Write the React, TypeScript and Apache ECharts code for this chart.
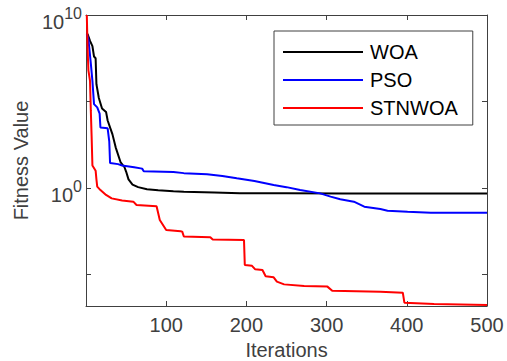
import React, { useEffect, useRef } from "react";
import * as echarts from "echarts";

// Iteration numbers and log10 of the fitness value for each algorithm
const woaIterations = [1, 2, 5, 8, 10, 12, 13, 16, 20, 25, 27, 33, 37, 43, 48, 50, 53, 58, 65, 76, 90, 109, 122, 160, 192, 250, 320, 500];
const woaLogFitness = [8.9, 8.9, 8.5, 8.2, 7.6, 7.5, 6.0, 5.2, 4.6, 4.4, 3.9, 3.1, 2.35, 1.5, 1.2, 0.95, 0.5, 0.2, 0.05, -0.07, -0.13, -0.19, -0.22, -0.26, -0.3, -0.31, -0.32, -0.32];

const psoIterations = [1, 3, 6, 8, 10, 14, 17, 18, 27, 29, 30, 40, 45, 60, 70, 72, 109, 122, 151, 170, 188, 210, 234, 250, 267, 292, 305, 317, 334, 347, 367, 376, 401, 430, 500];
const psoLogFitness = [8.9, 8.6, 7.2, 6.2, 4.85, 4.66, 4.3, 3.5, 3.45, 2.7, 1.45, 1.38, 1.3, 1.2, 1.12, 0.97, 0.93, 0.86, 0.8, 0.7, 0.56, 0.4, 0.17, 0.05, -0.12, -0.31, -0.5, -0.65, -0.79, -1.08, -1.21, -1.31, -1.37, -1.43, -1.43];

const stnwoaIterations = [1, 2, 3, 5, 6, 7, 8, 12, 13, 14, 18, 25, 32, 45, 59, 63, 88, 92, 100, 118, 120, 122, 155, 158, 197, 198, 207, 211, 220, 224, 234, 238, 247, 272, 301, 307, 367, 395, 397, 434, 500];
const stnwoaLogFitness = [10, 8, 6.8, 6.2, 4.5, 3.0, 1.3, 1.0, 0.5, 0.08, -0.12, -0.4, -0.6, -0.72, -0.79, -0.98, -1.05, -1.85, -2.43, -2.5, -2.52, -2.8, -2.85, -2.98, -3.0, -4.45, -4.5, -4.7, -4.74, -5.1, -5.16, -5.41, -5.57, -5.66, -5.7, -5.94, -5.99, -6.05, -6.63, -6.7, -6.76];

const seriesNames = ["WOA", "PSO", "STNWOA"];
const seriesColors = ["#000000", "#0000ff", "#ff0000"];
const xTickValues = [0, 100, 200, 300, 400, 500];
const yTickExponents = [-5, 0, 5, 10];
const yLabelExponents = [0, 10];

const FONT = "'Liberation Sans', Arial, Helvetica, sans-serif";
const AXIS_COLOR = "#404040";

export default function App() {
  const ref = useRef<HTMLDivElement>(null);
  useEffect(() => {
    if (!ref.current) return;
    const chart = echarts.init(ref.current, undefined, { renderer: "svg" });
    const pairs = (xs: number[], ys: number[]) => xs.map((x, i) => [x, ys[i]]);
    const data = [
      pairs(woaIterations, woaLogFitness),
      pairs(psoIterations, psoLogFitness),
      pairs(stnwoaIterations, stnwoaLogFitness),
    ];
    const axisLine = { show: true, onZero: false, lineStyle: { color: AXIS_COLOR, width: 1 } };
    const tick = { show: true, inside: true, length: 5, lineStyle: { color: AXIS_COLOR, width: 1 } };
    chart.setOption({
      animation: false,
      backgroundColor: "#ffffff",
      textStyle: { fontFamily: FONT },
      grid: { left: 86, right: 20, top: 15, bottom: 55, containLabel: false, outerBoundsMode: "none" },
      legend: {
        orient: "vertical",
        left: 274,
        top: 31,
        padding: [11, 15, 7, 8],
        itemWidth: 80,
        itemHeight: 20,
        itemGap: 8,
        borderColor: AXIS_COLOR,
        borderWidth: 1,
        backgroundColor: "#ffffff",
        itemStyle: { opacity: 0 },
        textStyle: { fontSize: 20, color: "#000000", fontFamily: FONT, padding: [0, 0, 0, 2] },
        data: seriesNames,
      },
      xAxis: [
        {
          type: "value",
          position: "bottom",
          min: 0,
          max: 500,
          interval: 100,
          axisLine,
          axisTick: { ...tick, customValues: xTickValues },
          splitLine: { show: false },
          axisLabel: {
            fontSize: 20,
            color: AXIS_COLOR,
            margin: 9,
            fontFamily: FONT,
            formatter: (v: number) => (v === 0 ? "" : String(v)),
          },
          name: "Iterations",
          nameLocation: "middle",
          nameGap: 33,
          nameTextStyle: { fontSize: 20, color: AXIS_COLOR, fontFamily: FONT },
        },
        {
          type: "value",
          position: "top",
          min: 0,
          max: 500,
          interval: 100,
          axisLine,
          axisTick: { ...tick, customValues: xTickValues },
          axisLabel: { show: false },
          splitLine: { show: false },
        },
      ],
      yAxis: [
        {
          type: "value",
          position: "left",
          min: -6.82,
          max: 10,
          axisLine,
          axisTick: { ...tick, customValues: yTickExponents },
          splitLine: { show: false },
          axisLabel: {
            customValues: yLabelExponents,
            margin: 4,
            color: AXIS_COLOR,
            fontFamily: FONT,
            formatter: (v: number) => `{b|10}{s|${v}}`,
            rich: {
              b: { fontSize: 20, color: AXIS_COLOR, fontFamily: FONT, padding: [14, 0, 0, 0] },
              s: { fontSize: 16, color: AXIS_COLOR, fontFamily: FONT, padding: [7, 0, 0, 0], verticalAlign: "top" },
            },
          },
          name: "Fitness Value",
          nameLocation: "middle",
          nameGap: 50,
          nameRotate: 90,
          nameTextStyle: { fontSize: 20, color: AXIS_COLOR, fontFamily: FONT },
        },
        {
          type: "value",
          position: "right",
          min: -6.82,
          max: 10,
          axisLine,
          axisTick: { ...tick, customValues: yTickExponents },
          axisLabel: { show: false },
          splitLine: { show: false },
        },
      ],
      series: seriesNames.map((name, i) => ({
        name,
        type: "line",
        xAxisIndex: 0,
        yAxisIndex: 0,
        data: data[i],
        symbol: "none",
        showSymbol: false,
        lineStyle: { color: seriesColors[i], width: 2 },
        itemStyle: { color: seriesColors[i] },
        clip: true,
      })),
    });
    return () => chart.dispose();
  }, []);
  return (
    <div
      ref={ref}
      style={{ position: "fixed", left: 0, top: 0, width: 507, height: 361, background: "#fff" }}
    />
  );
}
